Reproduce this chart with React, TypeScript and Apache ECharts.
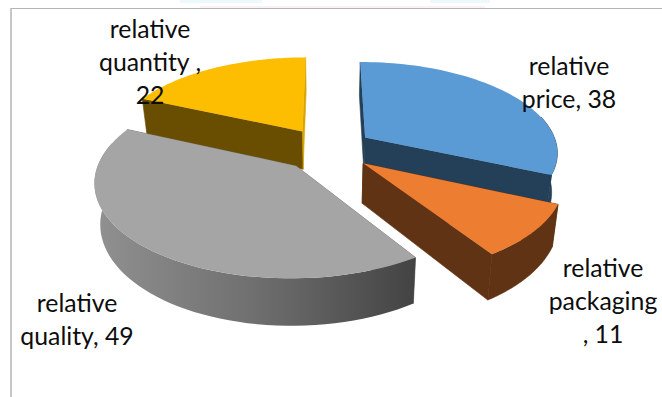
import React, { useEffect, useRef } from "react";
import * as echarts from "echarts";

// Share of each attribute, clockwise from twelve o'clock.
const categories = ["relative price", "relative packaging", "relative quality", "relative quantity"];
const seriesValues = [38, 11, 49, 22];
const labelLines = [
  ["relative", "price, "],
  ["relative", "packaging", ", "],
  ["relative", "quality, "],
  ["relative", "quantity ,", ""],
];
const topColors = ["#5b9bd5", "#ed7d31", "#a5a5a5", "#fdbd00"];
const wallColors = ["#243f58", "#603314", "#6e6e6e", "#694d00"];
const drawOrder = [3, 0, 1, 2];
const labelAnchors = [
  [569, 82],
  [603, 300],
  [77, 319],
  [150, 61],
];

// Perspective disc projection.
const CX = 327;
const CY = 149;
const RX = 193;
const RY = 90;
const PERSPECTIVE = 0.15;
const THICKNESS = 39;
const BOTTOM_SHRINK = 0.975;
const EXPLODE = 0.24;
// Rim points further back than this are turned away from the viewer.
const RIM_VISIBLE_FROM = -0.25;

const total = seriesValues.reduce((a, b) => a + b, 0);

function project(x: number, v: number, lower: boolean): number[] {
  const w = 1 - PERSPECTIVE * v;
  const px = (RX * x) / w;
  const py = CY + (RY * v) / w;
  return lower ? [CX + px * BOTTOM_SHRINK, py + THICKNESS / w] : [CX + px, py];
}

function sliceGeometry(index: number) {
  let before = 0;
  for (let i = 0; i < index; i++) before += seriesValues[i];
  const a0 = (before / total) * Math.PI * 2;
  const a1 = ((before + seriesValues[index]) / total) * Math.PI * 2;
  const mid = (a0 + a1) / 2;
  const ox = Math.sin(mid) * EXPLODE;
  const ov = -Math.cos(mid) * EXPLODE;
  const arc: number[][] = [];
  const rim: number[][] = [];
  const steps = 60;
  for (let s = 0; s <= steps; s++) {
    const a = a0 + ((a1 - a0) * s) / steps;
    const point = [ox + Math.sin(a), ov - Math.cos(a)];
    arc.push(point);
    if (-Math.cos(a) >= RIM_VISIBLE_FROM) rim.push(point);
  }
  return { apex: [ox, ov], arc, rim };
}

function renderSlice(_params: any, api: any) {
  const index = api.value(0);
  const { apex, arc, rim } = sliceGeometry(index);
  const up = (p: number[]) => project(p[0], p[1], false);
  const down = (p: number[]) => project(p[0], p[1], true);
  const first = arc[0];
  const last = arc[arc.length - 1];
  const wall = wallColors[index];
  const isQuality = categories[index] === "relative quality";
  const outerFill = isQuality
    ? new echarts.graphic.LinearGradient(0, 0, 1, 0, [
        { offset: 0, color: "#919191" },
        { offset: 0.5, color: "#6f6f6f" },
        { offset: 1, color: "#434343" },
      ])
    : wall;
  const poly = (points: number[][], fill: any, seam: boolean) => ({
    type: "polygon",
    shape: { points },
    style: { fill, stroke: seam ? fill : null, lineWidth: seam ? 0.6 : 0 },
    silent: true,
  });
  // The closing edge of the quantity slice catches the light.
  const lastWall = categories[index] === "relative quantity" ? "#d9a400" : wall;
  const children: any[] = [
    poly([up(apex), up(first), down(first), down(apex)], wall, true),
    poly([up(apex), up(last), down(last), down(apex)], lastWall, true),
  ];
  if (rim.length > 1) {
    children.push(poly([...rim.map(up), ...rim.slice().reverse().map(down)], outerFill, !isQuality));
  }
  children.push(poly([up(apex), ...arc.map(up)], topColors[index], false));
  return { type: "group", children };
}

function renderLabel(_params: any, api: any) {
  const index = api.value(0);
  const lines = labelLines[index].slice();
  lines[lines.length - 1] += String(seriesValues[index]);
  return {
    type: "text",
    x: labelAnchors[index][0],
    y: labelAnchors[index][1],
    silent: true,
    style: {
      text: lines.join("\n"),
      fill: "#0d0d0d",
      font: '400 24.8px Lato, "Open Sans", sans-serif',
      lineHeight: 33,
      align: "center",
      verticalAlign: "middle",
    },
  };
}

export default function App() {
  const ref = useRef<HTMLDivElement>(null);
  useEffect(() => {
    const chart = echarts.init(ref.current!, null, { renderer: "svg" });
    chart.setOption({
      animation: false,
      backgroundColor: "#ffffff",
      graphic: [
        // Pale band left along the upper edge of the frame.
        { type: "rect", shape: { x: 180, y: 0, width: 82, height: 3 }, style: { fill: "#eef9fc" } },
        { type: "rect", shape: { x: 430, y: 0, width: 60, height: 3 }, style: { fill: "#eef9fc" } },
        { type: "rect", shape: { x: 200, y: 6, width: 285, height: 2 }, style: { fill: "#fcf1f6" } },
        { type: "line", shape: { x1: 11, y1: 8.5, x2: 662, y2: 8.5 }, style: { stroke: "#b4b4b4", lineWidth: 1 } },
        { type: "line", shape: { x1: 11, y1: 8, x2: 11, y2: 397 }, style: { stroke: "#b4b4b4", lineWidth: 1.5 } },
      ],
      series: [
        {
          type: "custom",
          coordinateSystem: "none",
          renderItem: renderSlice,
          data: drawOrder.map((i) => ({ name: categories[i], value: [i, seriesValues[i]] })),
          z: 2,
        },
        {
          type: "custom",
          coordinateSystem: "none",
          renderItem: renderLabel,
          data: seriesValues.map((v, i) => ({ name: categories[i], value: [i, v] })),
          z: 3,
        },
      ],
    });
    return () => chart.dispose();
  }, []);
  return <div ref={ref} style={{ position: "fixed", left: 0, top: 0, width: 662, height: 397 }} />;
}
